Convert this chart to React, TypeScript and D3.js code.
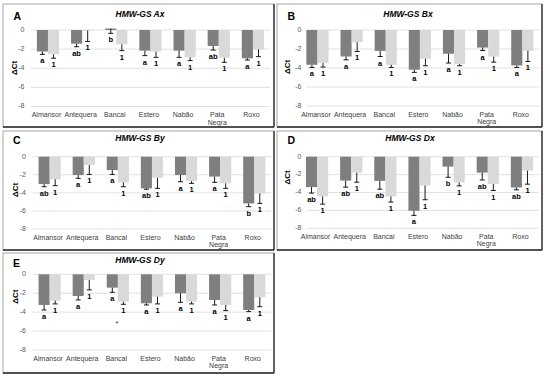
import React from "react";
import * as d3 from "d3";

const categories = ["Almansor", "Antequera", "Bancal", "Estero", "Nabão", "Pata Negra", "Roxo"];
const yTicks = [0, -2, -4, -6, -8];

// Panel A – HMW-GS Ax
const axDark = [-2.25, -1.43, 0.15, -2.16, -2.16, -1.67, -2.96];
const axDarkErr = [0.3, 0.32, 0.5, 0.52, 0.7, 0.43, 0.18];
const axLight = [-2.55, -0.05, -1.5, -2.26, -2.86, -2.9, -2.02];
const axLightErr = [0.4, 1.15, 0.66, 0.6, 0.34, 0.48, 0.77];
const axDarkLbl = ["a", "ab", "b", "a", "a", "ab", "a"];
const axLightLbl = ["1", "1", "1", "1", "1", "1", "1"];

// Panel B – HMW-GS Bx
const bxDark = [-3.66, -2.79, -2.2, -4.18, -2.5, -1.85, -3.73];
const bxDarkErr = [0.28, 0.35, 0.59, 0.28, 0.98, 0.31, 0.21];
const bxLight = [-3.48, -1.29, -3.66, -3.03, -3.59, -2.79, -2.2];
const bxLightErr = [0.42, 0.97, 0.28, 0.73, 0.17, 0.59, 1.11];
const bxDarkLbl = ["a", "a", "a", "a", "a", "a", "a"];
const bxLightLbl = ["1", "1", "1", "1", "1", "1", "1"];

// Panel C – HMW-GS By
const byDark = [-3.03, -2.03, -1.48, -3.5, -2.03, -2.2, -5.17];
const byDarkErr = [0.29, 0.37, 0.48, 0.1, 0.74, 0.64, 0.36];
const byLight = [-2.5, -0.92, -2.84, -2.32, -2.7, -2.95, -4.06];
const byLightErr = [0.7, 1.04, 0.48, 1.18, 0.25, 0.55, 1.11];
const byDarkLbl = ["ab", "a", "a", "ab", "a", "a", "b"];
const byLightLbl = ["1", "1", "1", "1", "1", "1", "1"];

// Panel D – HMW-GS Dx
const dxDark = [-3.4, -2.67, -2.7, -6.04, -1.11, -1.78, -3.44];
const dxDarkErr = [0.67, 0.73, 0.93, 0.52, 1.19, 0.82, 0.26];
const dxLight = [-4.44, -1.78, -4.44, -3.22, -2.89, -3.04, -1.56];
const dxLightErr = [0.86, 1.07, 0.63, 1.59, 0.37, 0.74, 1.51];
const dxDarkLbl = ["ab", "ab", "ab", "a", "b", "ab", "ab"];
const dxLightLbl = ["1", "1", "1", "1", "1", "1", "1"];

// Panel E – HMW-GS Dy
const dyDark = [-3.24, -2.29, -1.41, -3.06, -2.0, -2.71, -3.77];
const dyDarkErr = [0.53, 0.42, 0.49, 0.18, 0.96, 0.53, 0.17];
const dyLight = [-2.78, -0.6, -2.89, -2.36, -2.89, -3.24, -2.43];
const dyLightErr = [0.35, 1.05, 0.28, 0.77, 0.24, 0.6, 0.99];
const dyDarkLbl = ["a", "a", "a", "a", "a", "a", "a"];
const dyLightLbl = ["1", "1", "1", "1", "1", "1", "1"];
const dyMarks = ["", "", "*", "", "", "", ""];

const FONT = "'Liberation Sans', Arial, sans-serif";
const DARK = "#7f7f7f";
const LIGHT = "#d9d9d9";

type PanelDef = {
  letter: string;
  title: string;
  dark: number[];
  darkErr: number[];
  light: number[];
  lightErr: number[];
  darkLbl: string[];
  lightLbl: string[];
  marks?: string[];
  box: [number, number, number, number];
  plot: { x0: number; x1: number; y0: number; y8: number };
  tickX: number;
  titleX: number;
  titleY: number;
  letterX: number;
  letterY: number;
  axX: number;
  axY: number;
};

const panels: PanelDef[] = [
  {
    letter: "A", title: "HMW-GS Ax", dark: axDark, darkErr: axDarkErr, light: axLight, lightErr: axLightErr,
    darkLbl: axDarkLbl, lightLbl: axLightLbl,
    box: [3, 4, 271, 123], plot: { x0: 30.9, x1: 270, y0: 30, y8: 106.5 }, tickX: 24.5,
    titleX: 140, titleY: 17, letterX: 13.5, letterY: 19.5, axX: 15, axY: 68,
  },
  {
    letter: "B", title: "HMW-GS Bx", dark: bxDark, darkErr: bxDarkErr, light: bxLight, lightErr: bxLightErr,
    darkLbl: bxDarkLbl, lightLbl: bxLightLbl,
    box: [277, 4, 265, 123], plot: { x0: 300.4, x1: 539.4, y0: 30, y8: 106 }, tickX: 301.5,
    titleX: 408, titleY: 17, letterX: 287.5, letterY: 19.5, axX: 288, axY: 67,
  },
  {
    letter: "C", title: "HMW-GS By", dark: byDark, darkErr: byDarkErr, light: byLight, lightErr: byLightErr,
    darkLbl: byDarkLbl, lightLbl: byLightLbl,
    box: [3, 131, 271, 119], plot: { x0: 32.6, x1: 271.3, y0: 156.7, y8: 229 }, tickX: 26,
    titleX: 140, titleY: 141, letterX: 13, letterY: 143.5, axX: 16, axY: 190,
  },
  {
    letter: "D", title: "HMW-GS Dx", dark: dxDark, darkErr: dxDarkErr, light: dxLight, lightErr: dxLightErr,
    darkLbl: dxDarkLbl, lightLbl: dxLightLbl,
    box: [277, 131, 265, 119], plot: { x0: 300, x1: 539, y0: 156.7, y8: 228.3 }, tickX: 301.5,
    titleX: 410, titleY: 141, letterX: 287.5, letterY: 143.5, axX: 288, axY: 177.5,
  },
  {
    letter: "E", title: "HMW-GS Dy", dark: dyDark, darkErr: dyDarkErr, light: dyLight, lightErr: dyLightErr,
    darkLbl: dyDarkLbl, lightLbl: dyLightLbl, marks: dyMarks,
    box: [3, 253, 271, 120], plot: { x0: 32.6, x1: 271.3, y0: 274.3, y8: 350 }, tickX: 26,
    titleX: 140, titleY: 263, letterX: 13, letterY: 267, axX: 16, axY: 296.7,
  },
];

function Panel({ p }: { p: PanelDef }) {
  const x = d3.scaleBand<string>().domain(categories).range([p.plot.x0, p.plot.x1]).paddingInner(0.35).paddingOuter(0.175);
  const sub = d3.scaleBand<string>().domain(["dark", "light"]).range([0, x.bandwidth()]);
  const y = d3.scaleLinear().domain([0, -8]).range([p.plot.y0, p.plot.y8]);
  const [bx, by, bw, bh] = p.box;
  const cap = 2.5;
  const gridStart = Math.max(p.plot.x0, p.tickX + 5.5);

  const series = [
    { key: "dark", vals: p.dark, errs: p.darkErr, lbls: p.darkLbl, color: DARK },
    { key: "light", vals: p.light, errs: p.lightErr, lbls: p.lightLbl, color: LIGHT },
  ];

  return (
    <g>
      <rect x={bx} y={by} width={bw} height={bh} fill="#fff" stroke="#a6a6a6" strokeWidth={1} />
      <line x1={bx + bw} x2={bx + bw} y1={by} y2={by + bh} stroke="#262626" strokeWidth={1.3} />
      <line x1={bx} x2={bx + bw} y1={by + bh} y2={by + bh} stroke="#262626" strokeWidth={1.3} />
      <text x={p.letterX} y={p.letterY} fontFamily={FONT} fontWeight="bold" fontSize={10.5} fill="#000">{p.letter}</text>
      <text x={p.titleX} y={p.titleY} fontFamily={FONT} fontWeight="bold" fontStyle="italic" fontSize={8.5} textAnchor="middle" fill="#000">{p.title}</text>
      <text transform={`translate(${p.axX},${p.axY}) rotate(-90)`} fontFamily={FONT} fontWeight="bold" fontSize={8} textAnchor="middle" dominantBaseline="middle" fill="#000">ΔCt</text>
      {yTicks.map((t) => (
        <g key={t}>
          <line x1={gridStart} x2={p.plot.x1} y1={y(t)} y2={y(t)} stroke="#d9d9d9" strokeWidth={0.8} />
          <text x={p.tickX} y={y(t)} fontFamily={FONT} fontSize={7} textAnchor="end" dominantBaseline="middle" fill="#595959">{t}</text>
        </g>
      ))}
      {series.map((s) =>
        categories.map((c, i) => {
          const v = s.vals[i];
          const e = s.errs[i];
          const left = (x(c) ?? 0) + (sub(s.key) ?? 0);
          const w = sub.bandwidth();
          const cx = left + w / 2;
          const top = Math.min(y(0), y(v));
          const h = Math.abs(y(v) - y(0));
          const low = y(v - e);
          return (
            <g key={s.key + c}>
              <rect x={left} y={top} width={w} height={Math.max(h, 0.8)} fill={s.color} />
              <line x1={cx} x2={cx} y1={y(v)} y2={low} stroke="#000" strokeWidth={0.9} />
              <line x1={cx - cap} x2={cx + cap} y1={low} y2={low} stroke="#000" strokeWidth={0.9} />
              <text x={cx} y={low + 9} fontFamily={FONT} fontWeight="bold" fontSize={7.5} textAnchor="middle" fill="#000">{s.lbls[i]}</text>
            </g>
          );
        })
      )}
      {p.marks &&
        categories.map((c, i) =>
          p.marks![i] ? (
            <text key={"m" + c} x={(x(c) ?? 0) + x.bandwidth() / 2 - 1} y={y(-5.5)} fontFamily={FONT} fontSize={7.5} textAnchor="middle" fill="#333">{p.marks![i]}</text>
          ) : null
        )}
      {categories.map((c) => {
        const lines = c.split(" ");
        const cx = (x(c) ?? 0) + x.bandwidth() / 2 - 1.5;
        return (
          <text key={"c" + c} x={cx} y={p.plot.y8 + 10.5} fontFamily={FONT} fontSize={7} textAnchor="middle" fill="#404040">
            {lines.map((l, k) => (
              <tspan key={k} x={cx} dy={k === 0 ? 0 : 7.5}>{l}</tspan>
            ))}
          </text>
        );
      })}
    </g>
  );
}

export default function App() {
  return (
    <svg width={550} height={380} style={{ position: "absolute", left: 0, top: 0, background: "#fff" }}>
      <rect x={0} y={0} width={550} height={380} fill="#fff" />
      {panels.map((p) => (
        <Panel key={p.letter} p={p} />
      ))}
    </svg>
  );
}
